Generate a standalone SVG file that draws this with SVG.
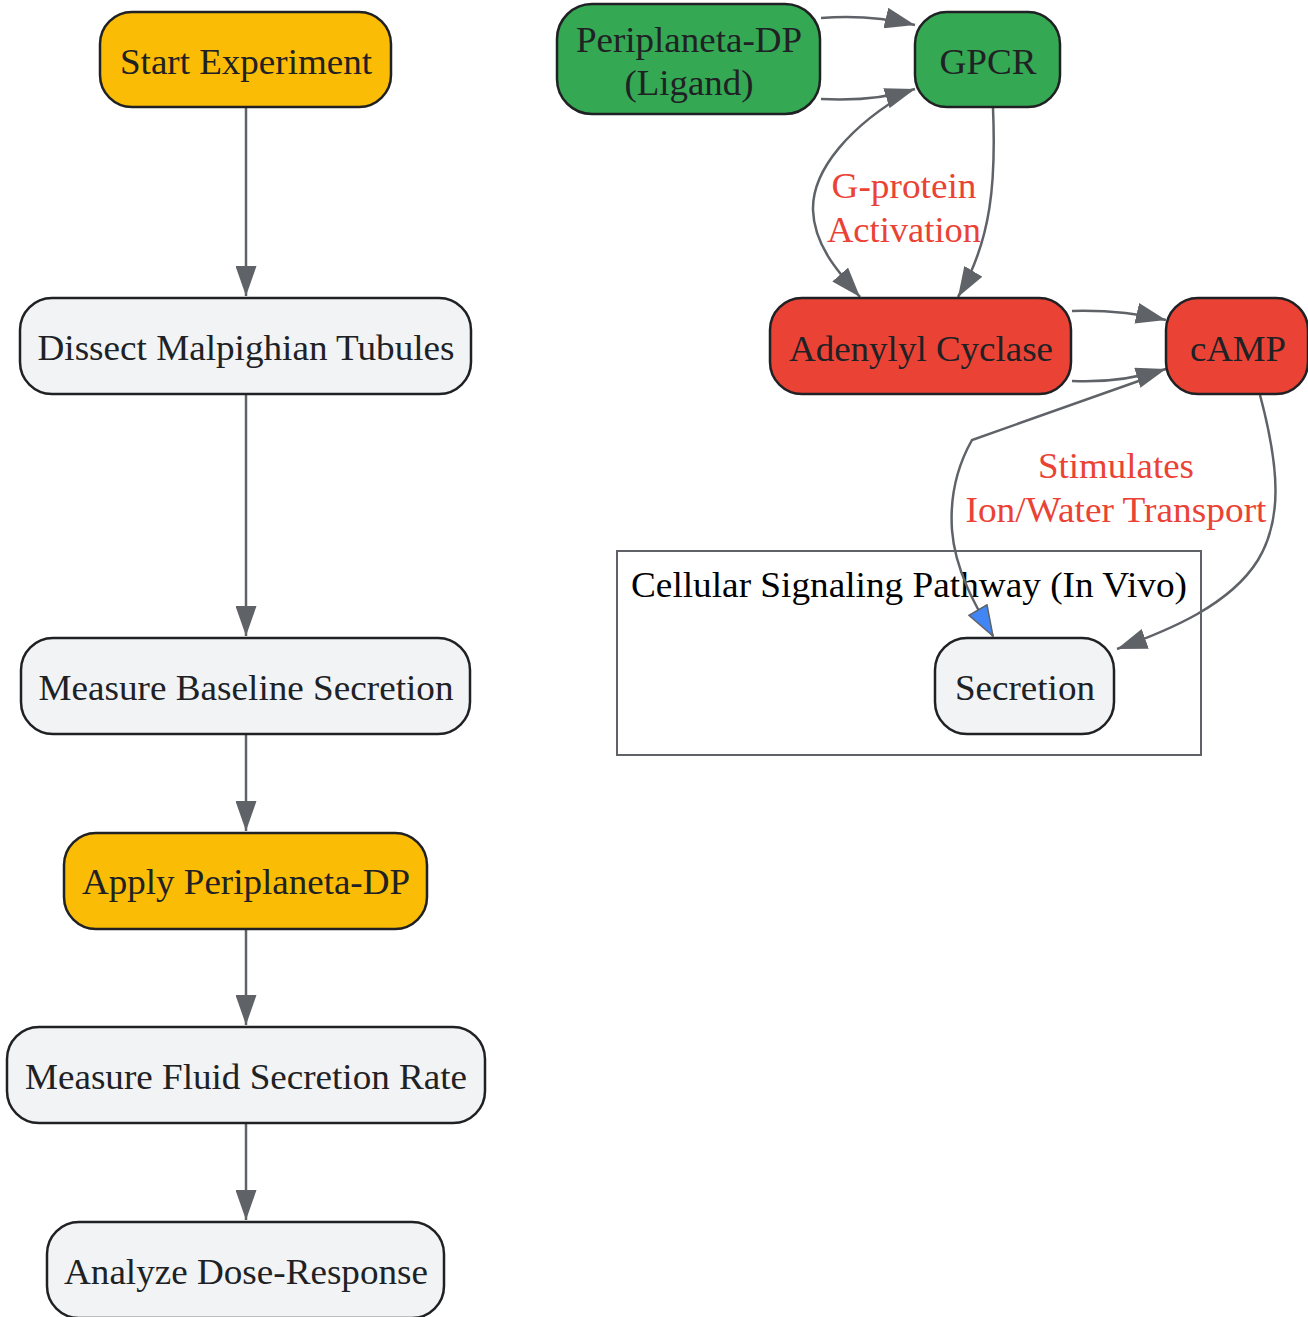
<svg xmlns="http://www.w3.org/2000/svg" width="1308" height="1317" viewBox="0 0 1308 1317">
<style>
.n{stroke:#202124;stroke-width:2.5}
.y{fill:#FBBC05}
.g{fill:#34A853}
.r{fill:#EA4335}
.w{fill:#F1F3F4}
.t{font-family:"Liberation Serif","Times New Roman",serif;font-size:36px;fill:#202124;text-anchor:middle}
.e{fill:none;stroke:#5F6368;stroke-width:2.5}
.l{font-family:"Liberation Serif","Times New Roman",serif;font-size:35px;fill:#EA4335;text-anchor:middle}
</style>
<defs>
<marker id="a" viewBox="0 0 30 21" refX="30" refY="10.5" markerWidth="30" markerHeight="21" markerUnits="userSpaceOnUse" orient="auto"><path d="M0,0 L30,10.5 L0,21 z" fill="#5F6368"/></marker>
<marker id="b" viewBox="-1 -1 32 23" refX="30" refY="10.5" markerWidth="32" markerHeight="23" markerUnits="userSpaceOnUse" orient="auto"><path d="M0,0 L30,10.5 L0,21 z" fill="#4285F4" stroke="#5F6368" stroke-width="1.5"/></marker>
</defs>
<rect width="1308" height="1317" fill="#FFFFFF"/>
<g id="cluster">
<rect x="617" y="551" width="584" height="204" fill="#FFFFFF" stroke="#5F6368" stroke-width="2"/>
<text x="631" y="597" font-family="Liberation Serif,Times New Roman,serif" font-size="35" fill="#000000" textLength="556" lengthAdjust="spacingAndGlyphs">Cellular Signaling Pathway (In Vivo)</text>
</g>
<g id="connectors">
<path class="e" d="M246,107 L246,296" marker-end="url(#a)"/>
<path class="e" d="M246,394 L246,636" marker-end="url(#a)"/>
<path class="e" d="M246,734 L246,831" marker-end="url(#a)"/>
<path class="e" d="M246,929 L246,1025" marker-end="url(#a)"/>
<path class="e" d="M246,1123 L246,1220" marker-end="url(#a)"/>
<path class="e" d="M821,18 C860,15 890,19 915,25" marker-end="url(#a)"/>
<path class="e" d="M821,99 C860,101 890,97 915,89" marker-end="url(#a)"/>
<path class="e" d="M912,90 C850,125 812,170 813,210 C814,245 838,272 860,297" marker-end="url(#a)"/>
<path class="e" d="M993,108 C996,180 992,240 958,297" marker-end="url(#a)"/>
<path class="e" d="M1072,311 C1110,310 1140,314 1166,320" marker-end="url(#a)"/>
<path class="e" d="M1072,381 C1110,383 1140,377 1166,369" marker-end="url(#a)"/>
<path class="e" d="M1150,377 L972,440 C955,470 950,500 952,530 C955,570 975,605 993,636" marker-end="url(#b)"/>
<path class="e" d="M1260,395 C1280,470 1282,520 1258,560 C1230,605 1170,630 1117,649" marker-end="url(#a)"/>
<text class="l" x="904" y="198" textLength="145" lengthAdjust="spacingAndGlyphs">G-protein</text>
<text class="l" x="904" y="242" textLength="154" lengthAdjust="spacingAndGlyphs">Activation</text>
<text class="l" x="1116" y="478" textLength="156" lengthAdjust="spacingAndGlyphs">Stimulates</text>
<text class="l" x="1116" y="522" textLength="301" lengthAdjust="spacingAndGlyphs">Ion/Water Transport</text>
</g>
<g id="start"><rect class="n y" x="100" y="12" width="291" height="95" rx="32"/><text class="t" x="246" y="74" textLength="252" lengthAdjust="spacingAndGlyphs">Start Experiment</text></g>
<g id="dissect"><rect class="n w" x="20" y="298" width="451" height="96" rx="32"/><text class="t" x="246" y="360" textLength="417" lengthAdjust="spacingAndGlyphs">Dissect Malpighian Tubules</text></g>
<g id="baseline"><rect class="n w" x="21" y="638" width="449" height="96" rx="32"/><text class="t" x="246" y="700" textLength="415" lengthAdjust="spacingAndGlyphs">Measure Baseline Secretion</text></g>
<g id="apply"><rect class="n y" x="64" y="833" width="363" height="96" rx="32"/><text class="t" x="246" y="894" textLength="328" lengthAdjust="spacingAndGlyphs">Apply Periplaneta-DP</text></g>
<g id="fluid"><rect class="n w" x="7" y="1027" width="478" height="96" rx="32"/><text class="t" x="246" y="1089" textLength="442" lengthAdjust="spacingAndGlyphs">Measure Fluid Secretion Rate</text></g>
<g id="analyze"><rect class="n w" x="47" y="1222" width="397" height="96" rx="32"/><text class="t" x="246" y="1284" textLength="364" lengthAdjust="spacingAndGlyphs">Analyze Dose-Response</text></g>
<g id="ligand"><rect class="n g" x="557" y="4" width="263" height="110" rx="35"/><text class="t" x="689" y="52" textLength="226" lengthAdjust="spacingAndGlyphs">Periplaneta-DP</text><text class="t" x="689" y="95" textLength="129" lengthAdjust="spacingAndGlyphs">(Ligand)</text></g>
<g id="gpcr"><rect class="n g" x="915" y="12" width="145" height="95" rx="32"/><text class="t" x="988" y="74" textLength="97" lengthAdjust="spacingAndGlyphs">GPCR</text></g>
<g id="adenylyl"><rect class="n r" x="770" y="298" width="301" height="96" rx="32"/><text class="t" x="921" y="361" textLength="264" lengthAdjust="spacingAndGlyphs">Adenylyl Cyclase</text></g>
<g id="camp"><rect class="n r" x="1166" y="298" width="142" height="96" rx="32"/><text class="t" x="1238" y="361" textLength="96" lengthAdjust="spacingAndGlyphs">cAMP</text></g>
<g id="secretion"><rect class="n w" x="935" y="638" width="179" height="96" rx="32"/><text class="t" x="1025" y="700" textLength="140" lengthAdjust="spacingAndGlyphs">Secretion</text></g>
</svg>
